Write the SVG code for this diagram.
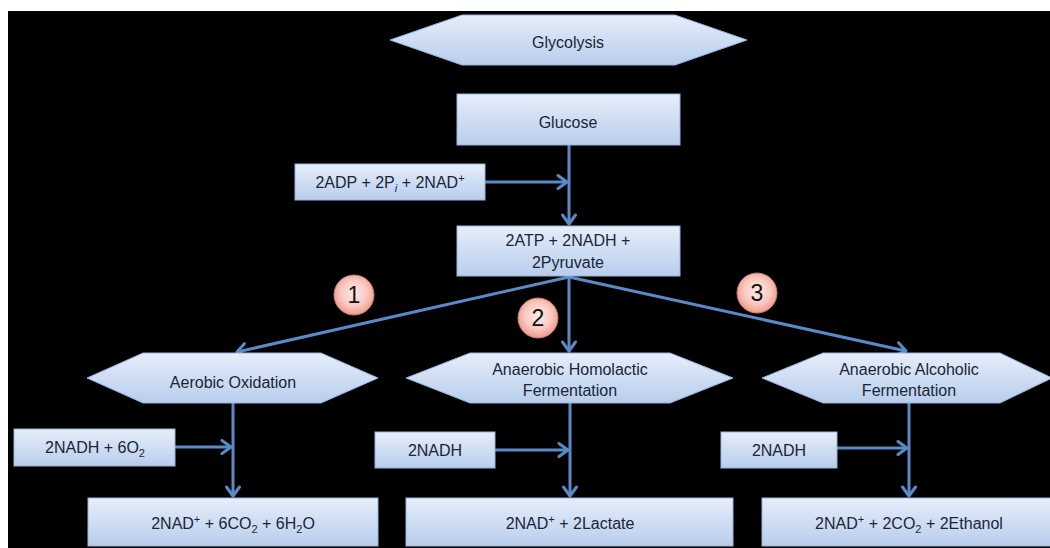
<svg xmlns="http://www.w3.org/2000/svg" width="1050" height="548" viewBox="0 0 1050 548">
<defs>
<linearGradient id="boxg" x1="0" y1="0" x2="0" y2="1">
<stop offset="0" stop-color="#e6eefa"/>
<stop offset="1" stop-color="#b8cdec"/>
</linearGradient>
<radialGradient id="circg" cx="0.5" cy="0.45" r="0.55">
<stop offset="0" stop-color="#fdeae6"/>
<stop offset="0.6" stop-color="#f9c9c1"/>
<stop offset="1" stop-color="#ee9a8c"/>
</radialGradient>
<marker id="arr" markerUnits="userSpaceOnUse" markerWidth="16" markerHeight="16" viewBox="0 0 16 16" refX="13" refY="8" orient="auto">
<path d="M4,1.5 L13,8 L4,14.5" fill="none" stroke="#5a8ac6" stroke-width="3" stroke-linecap="round" stroke-linejoin="round"/>
</marker>
<style>
.box{fill:url(#boxg);stroke:#98b3dc;stroke-width:1}
.t{font-family:"Liberation Sans",Arial,sans-serif;font-size:16px;fill:#1a2638;text-anchor:middle}
.circ{fill:url(#circg);stroke:#c9776b;stroke-width:1}
.num{font-family:"Liberation Sans",Arial,sans-serif;font-size:23px;fill:#111;text-anchor:middle}
.c{stroke:#5a8ac6;stroke-width:3;fill:none;marker-end:url(#arr)}
</style>
</defs>
<rect x="0" y="0" width="1050" height="548" fill="#ffffff"/>
<rect x="8" y="11" width="1042" height="537" fill="#000000"/>

<g id="connectors">
<line class="c" x1="569" y1="145" x2="569" y2="224"/>
<line class="c" x1="485" y1="182" x2="567" y2="182"/>
<line class="c" x1="569" y1="277" x2="237" y2="352"/>
<line class="c" x1="569" y1="277" x2="569" y2="351"/>
<line class="c" x1="569" y1="277" x2="906" y2="351"/>
<line class="c" x1="233" y1="403" x2="233" y2="496"/>
<line class="c" x1="175" y1="447" x2="231" y2="447"/>
<line class="c" x1="570" y1="403" x2="570" y2="496"/>
<line class="c" x1="495" y1="450" x2="568" y2="450"/>
<line class="c" x1="909" y1="403" x2="909" y2="496"/>
<line class="c" x1="837" y1="448" x2="907" y2="448"/>
</g>

<g id="glycolysis">
<polygon class="box" points="390,40 462,15 675,15 747,40 675,65 462,65"/>
<text class="t" x="568" y="48">Glycolysis</text>
</g>
<g id="glucose">
<rect class="box" x="457" y="94" width="223" height="51"/>
<text class="t" x="568" y="128">Glucose</text>
</g>
<g id="inputs1">
<rect class="box" x="295" y="164" width="190" height="36"/>
<text class="t" x="390" y="188">2ADP + 2P<tspan dy="4" font-size="11" font-style="italic">i</tspan><tspan dy="-4"> + 2NAD</tspan><tspan dy="-6" font-size="11">+</tspan></text>
</g>
<g id="products1">
<rect class="box" x="457" y="226" width="223" height="50"/>
<text class="t" x="568" y="246">2ATP + 2NADH +</text>
<text class="t" x="568" y="268">2Pyruvate</text>
</g>
<g id="label1">
<circle class="circ" cx="354" cy="295" r="20"/>
<text class="num" x="354" y="303">1</text>
</g>
<g id="label2">
<circle class="circ" cx="538" cy="318" r="20"/>
<text class="num" x="538" y="326">2</text>
</g>
<g id="label3">
<circle class="circ" cx="757" cy="293" r="20"/>
<text class="num" x="757" y="301">3</text>
</g>
<g id="aerobic">
<polygon class="box" points="87,378 143,353 321,353 378,378 321,403 143,403"/>
<text class="t" x="233" y="388">Aerobic Oxidation</text>
</g>
<g id="homolactic">
<polygon class="box" points="406,378 470,353 670,353 733,378 670,403 470,403"/>
<text class="t" x="570" y="375">Anaerobic Homolactic</text>
<text class="t" x="570" y="396">Fermentation</text>
</g>
<g id="alcoholic">
<polygon class="box" points="762,378 823,353 1000,353 1052,378 1000,403 823,403"/>
<text class="t" x="909" y="375">Anaerobic Alcoholic</text>
<text class="t" x="909" y="396">Fermentation</text>
</g>
<g id="nadh-o2">
<rect class="box" x="14" y="429" width="161" height="37"/>
<text class="t" x="95" y="453">2NADH + 6O<tspan dy="4" font-size="11">2</tspan></text>
</g>
<g id="nadh-homolactic">
<rect class="box" x="375" y="432" width="120" height="36"/>
<text class="t" x="435" y="456">2NADH</text>
</g>
<g id="nadh-alcoholic">
<rect class="box" x="721" y="432" width="116" height="36"/>
<text class="t" x="779" y="456">2NADH</text>
</g>
<g id="result-aerobic">
<rect class="box" x="88" y="498" width="290" height="48"/>
<text class="t" x="233" y="529">2NAD<tspan dy="-6" font-size="11">+</tspan><tspan dy="6"> + 6CO</tspan><tspan dy="4" font-size="11">2</tspan><tspan dy="-4"> + 6H</tspan><tspan dy="4" font-size="11">2</tspan><tspan dy="-4">O</tspan></text>
</g>
<g id="result-homolactic">
<rect class="box" x="406" y="498" width="327" height="48"/>
<text class="t" x="570" y="529">2NAD<tspan dy="-6" font-size="11">+</tspan><tspan dy="6"> + 2Lactate</tspan></text>
</g>
<g id="result-alcoholic">
<rect class="box" x="762" y="498" width="290" height="48"/>
<text class="t" x="909" y="529">2NAD<tspan dy="-6" font-size="11">+</tspan><tspan dy="6"> + 2CO</tspan><tspan dy="4" font-size="11">2</tspan><tspan dy="-4"> + 2Ethanol</tspan></text>
</g>
</svg>
